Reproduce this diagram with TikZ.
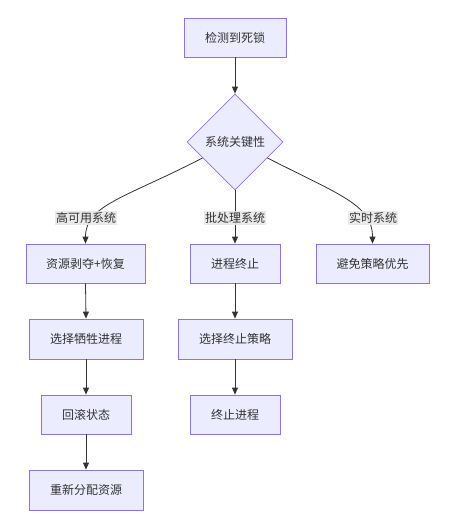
\documentclass[tikz,border=0pt]{standalone}
\usepackage{fontspec}
\setmainfont{Noto Sans CJK SC}
\usetikzlibrary{shapes.geometric,arrows.meta,calc}
\definecolor{nodefill}{HTML}{ECECFF}
\definecolor{nodeborder}{HTML}{9370DB}
\definecolor{edgecol}{HTML}{333333}
\definecolor{labelbg}{HTML}{E8E8E8}
\begin{document}
\begin{tikzpicture}[x=1pt,y=-1pt,
  box/.style={draw=nodeborder, fill=nodefill, line width=0.8pt, text=edgecol,
    font=\fontsize{12}{14}\selectfont, minimum height=39pt, inner sep=0pt},
  decision/.style={diamond, draw=nodeborder, fill=nodefill, line width=0.8pt, text=edgecol,
    font=\fontsize{12}{14}\selectfont, minimum width=96pt, minimum height=96pt, inner sep=0pt},
  elabel/.style={fill=labelbg, fill opacity=0.9, text opacity=1, text=edgecol,
    font=\fontsize{12}{14}\selectfont, inner xsep=1pt, inner ysep=1.5pt},
  edge/.style={draw=edgecol, line width=0.8pt, -{Triangle[length=7pt,width=6pt]}},
  plain/.style={draw=edgecol, line width=0.8pt}]
\useasboundingbox (0,0) rectangle (470,514);
\fill[white] (0,0) rectangle (470,514);

\node[box, minimum width=102pt] (top) at (235,37.5) {检测到死锁};
\node[decision] (dia) at (235,142) {系统关键性};

\node[box, minimum width=119pt] (r2a) at (85.5,263.5) {资源剥夺+恢复};
\node[box, minimum width=90pt] (r2b) at (235,263.5) {进程终止};
\node[box, minimum width=113pt] (r2c) at (372.5,263.5) {避免策略优先};

\node[box, minimum width=114pt, minimum height=40pt] (r3a) at (86,339) {选择牺牲进程};
\node[box, minimum width=114pt, minimum height=40pt] (r3b) at (235,339) {选择终止策略};

\node[box, minimum width=90pt] (r4a) at (86,414.5) {回滚状态};
\node[box, minimum width=90pt] (r4b) at (235,414.5) {终止进程};

\node[box, minimum width=114pt, minimum height=40pt] (r5a) at (86,490) {重新分配资源};

\coordinate (dl) at ($(dia.west)!0.33!(dia.south)$);
\coordinate (dr) at ($(dia.east)!0.33!(dia.south)$);

\draw[edge] (top.south) -- (dia.north);
\draw[edge] (dl) .. controls (125,198) and (r2a.north |- 0,205) .. (r2a.north);
\draw[edge] (dia.south) -- (r2b.north);
\draw[edge] (dr) .. controls (340,195) and (r2c.north |- 0,205) .. (r2c.north);

\node[elabel] (la) at (86,218) {高可用系统};
\node[elabel] (lb) at (235,218) {批处理系统};
\node[elabel] (lc) at (373,218) {实时系统};

\draw[edge] (r2a.south) -- (r3a.north);
\draw[edge] (r3a.south) -- (r4a.north);
\draw[edge] (r4a.south) -- (r5a.north);
\draw[edge] (r2b.south) -- (r3b.north);
\draw[edge] (r3b.south) -- (r4b.north);
\end{tikzpicture}
\end{document}
